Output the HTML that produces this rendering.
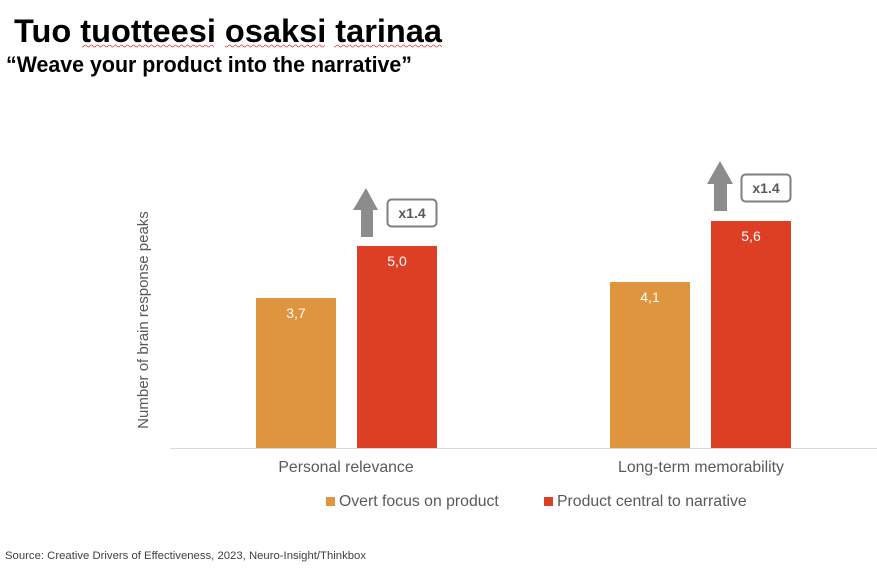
<!DOCTYPE html>
<html><head><style>
body{margin:0;width:877px;height:568px;background:#fff;overflow:hidden;font-family:"Liberation Sans",Arial,sans-serif}
</style></head><body>
<svg width="877" height="568" xmlns="http://www.w3.org/2000/svg" font-family="Liberation Sans, Arial, sans-serif">
<defs><pattern id="w" width="6" height="4" patternUnits="userSpaceOnUse"><path d="M0 2 Q1.5 0 3 2 T6 2" fill="none" stroke="#e04040" stroke-width="0.8"/></pattern></defs>
<text x="14" y="42" font-size="32" font-weight="bold" fill="#000" textLength="428" lengthAdjust="spacingAndGlyphs">Tuo tuotteesi osaksi tarinaa</text>
<rect x="82" y="44" width="132" height="4" fill="url(#w)"/>
<rect x="225" y="44" width="100" height="4" fill="url(#w)"/>
<rect x="334" y="44" width="108" height="4" fill="url(#w)"/>
<text x="6" y="72" font-size="22" font-weight="bold" fill="#000" textLength="406" lengthAdjust="spacingAndGlyphs">“Weave your product into the narrative”</text>
<text transform="translate(148,320) rotate(-90)" font-size="15" fill="#595959" text-anchor="middle">Number of brain response peaks</text>
<line x1="170" y1="448.5" x2="877" y2="448.5" stroke="#d9d9d9"/>
<rect x="256" y="298" width="80" height="150" fill="#df953d"/>
<rect x="357" y="246" width="80" height="202" fill="#dc3f24"/>
<rect x="610" y="282" width="80" height="166" fill="#df953d"/>
<rect x="711" y="221" width="80" height="227" fill="#dc3f24"/>
<g font-size="14" fill="#fff" text-anchor="middle">
<text x="296" y="318">3,7</text><text x="397" y="266">5,0</text>
<text x="650" y="302">4,1</text><text x="751" y="241">5,6</text></g>
<polygon points="366,188 378,210 373,210 373,237 361,237 361,210 353,210" fill="#8c8c8c"/>
<polygon points="720,161 733,184 727,184 727,211 714,211 714,184 707,184" fill="#8c8c8c"/>
<rect x="387.5" y="199.5" width="49" height="27" rx="4" fill="#fff" stroke="#7f7f7f" stroke-width="2"/>
<rect x="741.5" y="174.5" width="49" height="27" rx="4" fill="#fff" stroke="#7f7f7f" stroke-width="2"/>
<text x="412" y="218" font-size="14" font-weight="bold" fill="#595959" text-anchor="middle">x1.4</text>
<text x="766" y="193" font-size="14" font-weight="bold" fill="#595959" text-anchor="middle">x1.4</text>
<g font-size="15.8" fill="#595959" text-anchor="middle">
<text x="346" y="472">Personal relevance</text><text x="701" y="472">Long-term memorability</text></g>
<rect x="326" y="497" width="9" height="9" fill="#df953d"/>
<text x="339" y="506" font-size="15.8" fill="#595959">Overt focus on product</text>
<rect x="544" y="497" width="9" height="9" fill="#dc3f24"/>
<text x="557" y="506" font-size="15.8" fill="#595959">Product central to narrative</text>
<text x="5" y="559" font-size="11" fill="#404040" textLength="361" lengthAdjust="spacingAndGlyphs">Source: Creative Drivers of Effectiveness, 2023, Neuro-Insight/Thinkbox</text>
</svg>
</body></html>
